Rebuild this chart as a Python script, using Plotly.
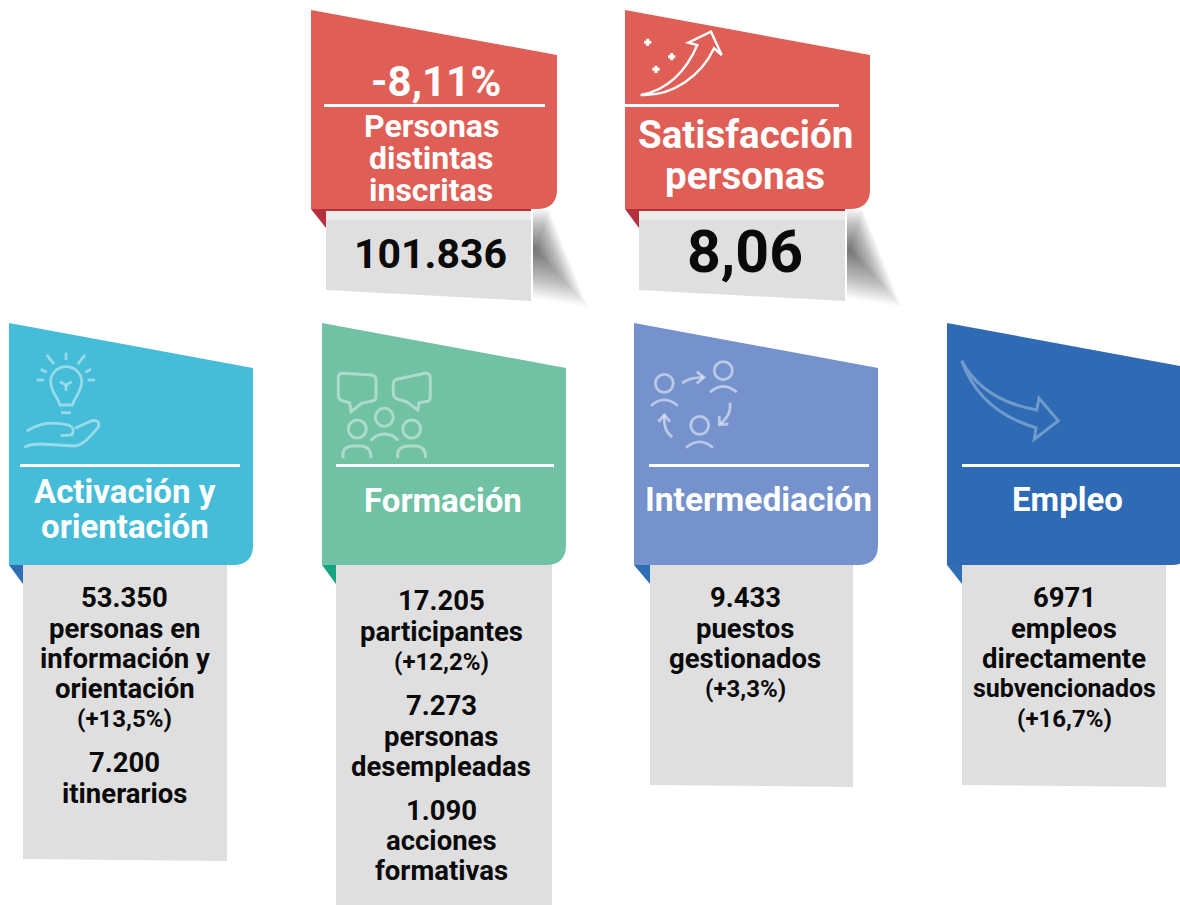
import re
import plotly.graph_objects as go

W, H = 1180, 905
FONT = "Roboto"

# ---- content -----------------------------------------------------------
top_percent = "-8,11%"
top_titles = [["Personas", "distintas", "inscritas"], ["Satisfacción", "personas"]]
top_values = ["101.836", "8,06"]

area_titles = [["Activación y", "orientación"], ["Formación"], ["Intermediación"], ["Empleo"]]
area_1_lines = ["53.350", "personas en", "información y", "orientación", "(+13,5%)", "7.200", "itinerarios"]
area_2_lines = ["17.205", "participantes", "(+12,2%)", "7.273", "personas", "desempleadas", "1.090", "acciones", "formativas"]
area_3_lines = ["9.433", "puestos", "gestionados", "(+3,3%)"]
area_4_lines = ["6971", "empleos", "directamente", "subvencionados", "(+16,7%)"]

# ---- layout and style --------------------------------------------------
RED, RED_D = "#df5e55", "#b5303f"
GREY = "#e0dfe0"
area_colors = ["#45bcd8", "#71c1a4", "#7592cc", "#2e6bb4"]
fold_colors = ["#2f6db5", "#16a37f", "#2f6db5", "#2f6db5"]
area_x = [9, 322, 634, 947]
box_x = [(23, 227), (336, 552), (650, 853), (962, 1166)]
box_bottom = [(859, 861), (910, 912), (785, 787), (785, 787)]
rule_x = [(20, 240), (336, 554), (649, 869), (962, 1182)]
area_line_y = [
    [597.5, 628.5, 658.5, 688.5, 718.5, 762.5, 793.5],
    [600.5, 631.5, 661.5, 705.5, 736.5, 766.5, 810.5, 840.5, 870.5],
    [597.5, 628.5, 658.5, 688.5],
    [597.5, 628.5, 658.5, 688.5, 718.5],
]
area_title_y = [[491, 526], [500], [499], [499]]
area_title_cx = [125, 443, 758.5, 1067]
area_body_cx = [124.5, 441, 745, 1064]

shapes = []
annotations = []


def poly(path, fill=None, line=None, lw=0, opacity=1.0):
    shapes.append(dict(
        type="path", path=path, xref="x", yref="y", layer="above", opacity=opacity,
        fillcolor=fill if fill else "rgba(0,0,0,0)",
        line=dict(color=line if line else "rgba(0,0,0,0)", width=lw),
    ))


def text(s, x, y, size, color="white"):
    annotations.append(dict(
        text=s, x=x, y=y, xref="x", yref="y", xanchor="center", yanchor="middle",
        showarrow=False, font=dict(family=FONT, size=size, color=color, weight=700),
    ))


def panel(x0, w, ytop, drop, ybot, color, r=20):
    x1 = x0 + w
    poly(f"M{x0},{ytop} L{x1},{ytop + drop} L{x1},{ybot - r} Q{x1},{ybot} {x1 - r},{ybot} L{x0},{ybot} Z", fill=color)


def zoomed(path, ox, oy):
    """Icon outlines below were traced on a 3x crop whose corner is (ox, oy)."""
    out, is_x = [], True
    for tok in re.findall(r"[A-Za-z]|-?[\d.]+", path):
        if tok.isalpha():
            out.append(tok)
            is_x = True
        else:
            v = float(tok) / 3 + (ox if is_x else oy)
            out.append(f"{v:.1f}")
            is_x = not is_x
    res, i = [], 0
    while i < len(out):
        if out[i].isalpha():
            res.append(out[i])
            i += 1
        else:
            res.append(f"{out[i]},{out[i + 1]}")
            i += 2
    return " ".join(res)


def icon(paths, ox, oy, color, lw):
    for p in paths:
        poly(zoomed(p, ox, oy), line=color, lw=lw)


def circle(cx, cy, r):
    return f"M{cx - r},{cy} C{cx - r},{cy - r * 0.55} {cx - r * 0.55},{cy - r} {cx},{cy - r} " \
           f"C{cx + r * 0.55},{cy - r} {cx + r},{cy - r * 0.55} {cx + r},{cy} " \
           f"C{cx + r},{cy + r * 0.55} {cx + r * 0.55},{cy + r} {cx},{cy + r} " \
           f"C{cx - r * 0.55},{cy + r} {cx - r},{cy + r * 0.55} {cx - r},{cy} Z"


# ---- top two cards ------------------------------------------------------
for x0, xl, xr, rx0, rx1 in [(311, 326, 531, 324, 545), (625, 639, 845, 625, 839)]:
    # soft shadow at the right of the grey box: many nested faint layers
    n = 40
    sx = xr + 2
    for i in range(n):
        t = 1 - i / n
        poly(f"M{sx},{max(210, 250 - 42 * t):.1f} L{sx + 3 + 13 * t:.1f},{max(210, 250 - 42 * t):.1f} "
             f"L{sx + 3 + 52 * t:.1f},{250 + 57 * t:.1f} L{sx},{250 + 48 * t:.1f} Z",
             fill="#000000", opacity=0.014)
    poly(f"M{xl},209 L{xr},209 L{xr},301 L{xl},290 Z", fill=GREY)
    poly(f"M{xl},209 L{xr},209 L{xr},220 L{xl},220 Z", fill="#ebebeb")
    poly(f"M{x0},209 L{xl},209 L{xl},228 Z", fill=RED_D)
    poly(f"M{xl},209 L{xr},209 L{xr},211 L{xl},211 Z", fill=RED_D)
    panel(x0, 246 if x0 == 311 else 245, 10, 45, 209, RED)
    poly(f"M{rx0},104 L{rx1},104 L{rx1},107 L{rx0},107 Z", fill="white")

text(top_percent, 435.5, 81, 42)
for s, y in zip(top_titles[0], [126, 158, 190]):
    text(s, 431, y, 32)
text(top_values[0], 430.5, 254, 41, "#0a0a0a")
for s, y in zip(top_titles[1], [134, 175]):
    text(s, 745, y, 38.5)
text(top_values[1], 745, 251, 59, "#0a0a0a")

# rising arrow and sparkles
icon([
    "M92,285 C170,272 228,215 262,135 L235,128 L303,95 L335,165 L312,145 C275,225 190,290 92,285 Z",
], 610, 0, "white", 2.4)
icon([
    "M113,116 L113,138 M102,127 L124,127",
    "M185,159 L185,181 M174,170 L196,170",
    "M138,197 L138,219 M127,208 L149,208",
], 610, 0, "white", 3)

# ---- four area cards ----------------------------------------------------
for i in range(4):
    x0 = area_x[i]
    xl, xr = box_x[i]
    b0, b1 = box_bottom[i]
    poly(f"M{xl},565 L{xr},565 L{xr},{b1} L{xl},{b0} Z", fill=GREY)
    poly(f"M{x0},565 L{xl},565 L{xl},584 Z", fill=fold_colors[i])
    panel(x0, 244, 323, 45, 565, area_colors[i])
    rx0, rx1 = rule_x[i]
    poly(f"M{rx0},464 L{rx1},464 L{rx1},467 L{rx0},467 Z", fill="white")
    for s, y in zip(area_titles[i], area_title_y[i]):
        text(s, area_title_cx[i], y, 33.5 if s == "Intermediación" else 33)

bodies = [area_1_lines, area_2_lines, area_3_lines, area_4_lines]
for i, lines in enumerate(bodies):
    for s, y in zip(lines, area_line_y[i]):
        size = 24 if s.startswith("(") else 25 if s == "subvencionados" else 27.5
        text(s, area_body_cx[i], y, size, "#0a0a0a")

# bulb and hand
icon([
    "M180,255 C175,235 152,215 152,185 C152,158 175,140 198,140 C222,140 245,158 245,185 C245,215 222,235 217,255 Z",
    "M198,98 L198,120", "M140,105 L162,132", "M255,105 L233,132",
    "M122,148 L140,157", "M273,148 L256,157", "M110,180 L132,180", "M263,180 L285,180",
    "M180,185 L198,195 L215,185", "M198,195 L198,212", "M183,278 L213,278",
    "M80,333 C120,310 150,303 205,315 Q228,325 215,345 L182,347",
    "M225,325 L275,302 Q302,298 295,322 C270,350 250,375 225,378 L120,372 Q90,372 73,382",
], 0, 320, "rgba(255,255,255,0.45)", 2.8)

# speech bubbles and audience
icon([
    "M82,160 L170,165 Q183,167 183,180 L183,228 Q183,242 170,243 L140,250 L108,275 L104,248 L85,243 Q70,240 70,225 L70,175 Q70,160 82,160 Z",
    "M245,178 L330,160 Q346,158 346,175 L346,230 Q346,245 330,245 L312,248 L308,270 L275,245 L250,238 Q235,235 235,220 L235,195 Q235,180 245,178 Z",
    circle(208, 292, 27), circle(127, 327, 27), circle(290, 327, 27),
    "M84,415 L84,400 Q85,380 115,378 L140,378 Q168,380 168,415",
    "M248,415 L248,400 Q250,380 280,378 L305,378 Q332,380 332,415",
    "M167,362 Q185,342 208,342 Q235,342 250,362",
], 315, 320, "rgba(255,255,255,0.42)", 3)

# people exchanging
icon([
    circle(118, 190, 27), circle(295, 152, 27), circle(224, 316, 27),
    "M78,257 Q118,222 158,257", "M255,217 Q295,182 335,217", "M183,383 Q224,348 264,383",
    "M172,190 Q190,172 235,172", "M215,155 L237,172 L215,190",
    "M315,248 Q320,285 285,312", "M283,288 L283,314 L310,312",
    "M142,350 Q115,335 118,285", "M100,305 L118,285 L135,305",
], 625, 320, "rgba(255,255,255,0.5)", 2.8)

# falling arrow
icon([
    "M80,122 C110,180 170,245 305,270 L312,235 L370,302 L298,358 L303,323 C190,290 115,220 80,122 Z",
], 935, 320, "rgba(255,255,255,0.32)", 3)

fig = go.Figure()
fig.update_layout(
    width=W, height=H, margin=dict(l=0, r=0, t=0, b=0),
    paper_bgcolor="white", plot_bgcolor="white", showlegend=False,
    xaxis=dict(range=[0, W], visible=False, fixedrange=True),
    yaxis=dict(range=[H, 0], visible=False, fixedrange=True),
    shapes=shapes, annotations=annotations,
)
fig.write_html("out.html", config=dict(displayModeBar=False),
               post_script="document.body.style.margin='0';document.body.style.overflow='hidden';")
